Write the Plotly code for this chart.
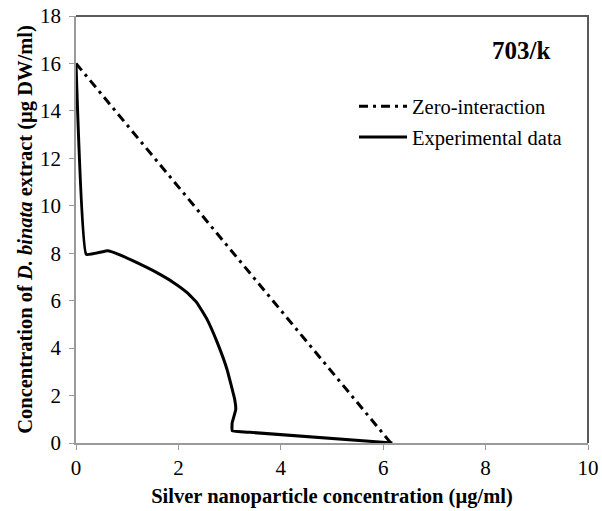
import plotly.graph_objects as go

# Línea de cero interacción (isobolograma teórico)
zero_x = [0, 6.15]
zero_y = [16, 0]

exp_x = [0, 0.2, 0.62, 0.82, 1.18, 1.57, 1.9, 2.17, 2.36, 2.56, 2.76, 2.95, 3.1, 3.12, 3.05, 3.05, 3.4, 6.18]
exp_y = [16, 7.95, 8.1, 7.96, 7.61, 7.19, 6.77, 6.34, 5.92, 5.21, 4.23, 3.1, 1.83, 1.41, 0.85, 0.52, 0.45, 0]

x_ticks = [0, 2, 4, 6, 8, 10]
y_ticks = [0, 2, 4, 6, 8, 10, 12, 14, 16, 18]

fuente = "Liberation Serif"
gris = "#9a9a9a"
gris_oscuro = "#5a5a5a"

fig = go.Figure()
fig.add_trace(go.Scatter(
    x=zero_x, y=zero_y, mode="lines", name="Zero-interaction", legendgroup="a",
    line=dict(color="black", width=3, dash="9px,5px,3px,5px")
))
fig.add_trace(go.Scatter(
    x=exp_x, y=exp_y, mode="lines", name="Experimental data", legendgroup="b",
    line=dict(color="black", width=3, shape="spline", smoothing=0.25)
))

fig.add_annotation(
    text="<b>703/k</b>", x=0.869, y=0.92, xref="paper", yref="paper",
    xanchor="center", yanchor="middle",
    showarrow=False, font=dict(family=fuente, size=25, color="black")
)

# Borde superior y derecho del área de trazado (más oscuro, como en Excel)
fig.add_shape(type="path", path="M 0,1 L 1,1 L 1,0", xref="paper", yref="paper",
              line=dict(color=gris_oscuro, width=2), layer="above")

fig.update_layout(
    width=602, height=511,
    plot_bgcolor="white", paper_bgcolor="white",
    margin=dict(l=76, r=14, t=16, b=68),
    font=dict(family=fuente, size=21, color="black"),
    showlegend=True,
    legend=dict(
        x=0.543, y=0.835, xanchor="left", yanchor="top",
        bgcolor="rgba(0,0,0,0)", font=dict(size=20.5),
        itemwidth=48, tracegroupgap=1, traceorder="grouped"
    ),
    xaxis=dict(
        range=[0, 10], tickvals=x_ticks, showgrid=False, zeroline=False,
        showline=True, linecolor=gris, linewidth=1.5,
        ticks="outside", ticklen=5, tickcolor=gris, automargin=False,
        ticklabeloverflow="allow",
        title=dict(text="<b>Silver nanoparticle concentration (µg/ml)</b>",
                   font=dict(size=20.5), standoff=10)
    ),
    yaxis=dict(
        range=[0, 18], tickvals=y_ticks, showgrid=False, zeroline=False,
        showline=True, linecolor=gris, linewidth=1.5,
        ticks="outside", ticklen=5, tickcolor=gris, automargin=False,
        ticklabelstandoff=4, ticklabeloverflow="allow",
        title=dict(text="<b>Concentration of <i>D. binata</i> extract (µg DW/ml)</b>",
                   font=dict(size=20.5), standoff=2)
    )
)

# Se quita el margen por defecto del body para que la figura ocupe toda la ventana
fig.write_html(
    "out.html",
    config={"displayModeBar": False},
    post_script="document.body.style.margin='0';document.body.style.overflow='hidden';"
)
